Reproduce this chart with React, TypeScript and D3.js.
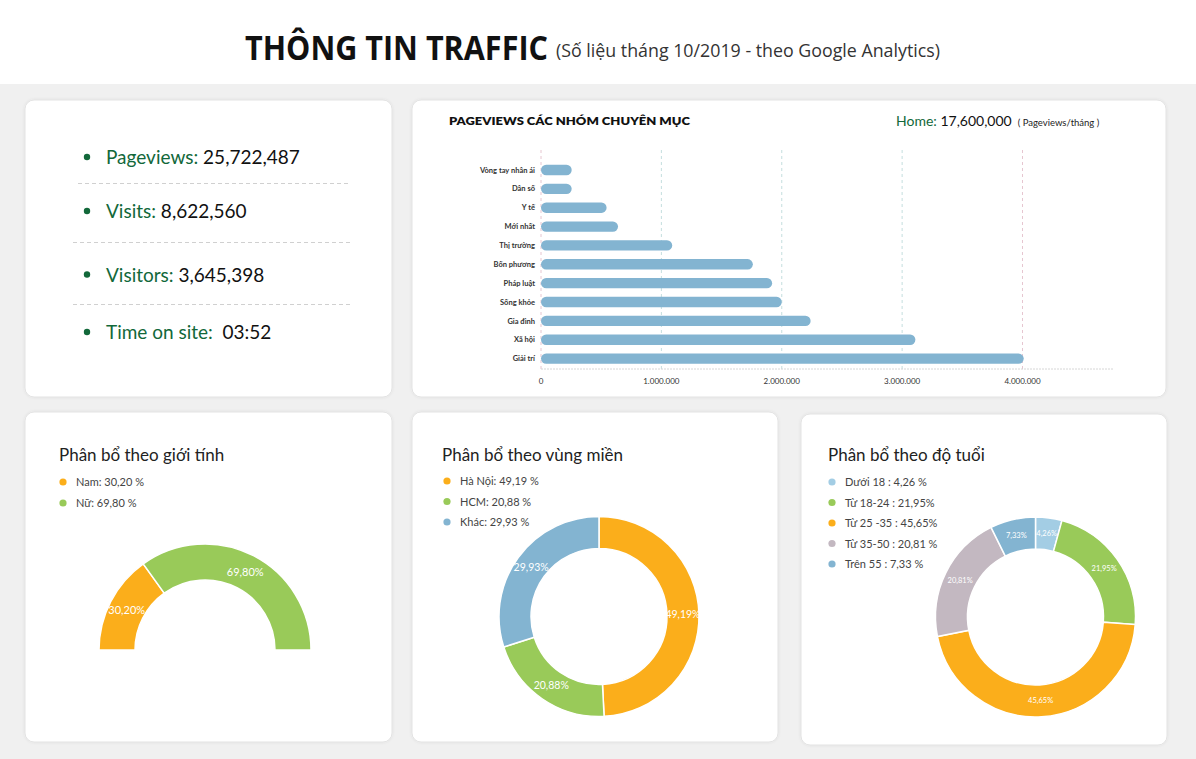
import React from "react";
import * as d3 from "d3";

// ---- data ----
const categories = [
  "Vòng tay nhân ái",
  "Dân số",
  "Y tế",
  "Mới nhất",
  "Thị trường",
  "Bốn phương",
  "Pháp luật",
  "Sống khỏe",
  "Gia đình",
  "Xã hội",
  "Giải trí",
];
const pageviews = [255000, 255000, 545000, 640000, 1090000, 1760000, 1920000, 2000000, 2240000, 3110000, 4010000];
const xTicks = [0, 1000000, 2000000, 3000000, 4000000];

const stats = [
  { label: "Pageviews:", value: " 25,722,487" },
  { label: "Visits:", value: " 8,622,560" },
  { label: "Visitors:", value: " 3,645,398" },
  { label: "Time on site:", value: "  03:52" },
];

const genderLabels = ["Nam", "Nữ"];
const genderValues = [30.2, 69.8];
const genderLegend = ["Nam: 30,20 %", "Nữ: 69,80 %"];

const regionLabels = ["Hà Nội", "HCM", "Khác"];
const regionValues = [49.19, 20.88, 29.93];
const regionLegend = ["Hà Nội: 49,19 %", "HCM: 20,88 %", "Khác: 29,93 %"];

const ageLabels = ["Dưới 18", "Từ 18-24", "Từ 25-35", "Từ 35-50", "Trên 55"];
const ageValues = [4.26, 21.95, 45.65, 20.81, 7.33];
const ageLegend = ["Dưới 18 : 4,26 %", "Từ 18-24 : 21,95%", "Từ 25 -35 : 45,65%", "Từ 35-50 : 20,81 %", "Trên 55 : 7,33 %"];

const ORANGE = "#fbae1b";
const GREEN = "#99ca59";
const BLUE = "#83b4d1";
const LIGHTBLUE = "#a3cde4";
const MAUVE = "#c3b8c1";
const DARKGREEN = "#12683a";
const FONT = "Lato, 'Open Sans', sans-serif";

const genderColors = [ORANGE, GREEN];
const regionColors = [ORANGE, GREEN, BLUE];
const ageColors = [LIGHTBLUE, GREEN, ORANGE, MAUVE, BLUE];

const viFormat = d3.formatLocale({ decimal: ",", thousands: ".", grouping: [3], currency: ["", ""] }).format(",d");
const pctText = (v: number) => d3.format(".2f")(v).replace(".", ",") + "%";

const Card = ({ x, y, w, h }: { x: number; y: number; w: number; h: number }) => (
  <rect x={x} y={y} width={w} height={h} rx={9} fill="#fff" stroke="#e3e3e3" strokeWidth={1} filter="url(#shadow)" />
);

const Legend = ({ x, y, items, colors, step }: { x: number; y: number; items: string[]; colors: string[]; step: number }) => (
  <g>
    {items.map((t, i) => (
      <g key={t} transform={`translate(${x},${y + i * step})`}>
        <circle cx={0} cy={0} r={3.6} fill={colors[i]} />
        <text x={13} y={4} fontSize={11} fill="#444" fontFamily={FONT}>
          {t}
        </text>
      </g>
    ))}
  </g>
);

const Donut = ({
  cx,
  cy,
  values,
  colors,
  outer,
  inner,
  start,
  end,
  labelSize,
}: {
  cx: number;
  cy: number;
  values: number[];
  colors: string[];
  outer: number;
  inner: number;
  start: number;
  end: number;
  labelSize: number;
}) => {
  const pie = d3.pie<number>().sort(null).startAngle(start).endAngle(end);
  const arcs = pie(values);
  const arc = d3.arc<d3.PieArcDatum<number>>().innerRadius(inner).outerRadius(outer);
  return (
    <g transform={`translate(${cx},${cy})`}>
      {arcs.map((a, i) => (
        <path key={i} d={arc(a) || ""} fill={colors[i]} stroke="#fff" strokeWidth={1.5} />
      ))}
      {arcs.map((a, i) => {
        const [lx, ly] = arc.centroid(a);
        return (
          <text
            key={"l" + i}
            x={lx}
            y={ly}
            dy="0.35em"
            textAnchor="middle"
            fontSize={labelSize}
            fill="#fff"
            fontFamily={FONT}
          >
            {pctText(values[i])}
          </text>
        );
      })}
    </g>
  );
};

export default function App() {
  // bar chart scales
  const x = d3.scaleLinear().domain([0, 4760000]).range([541, 1114]);
  const y = d3.scaleBand<string>().domain(categories).range([156.3, 372.3]).padding(0.45);
  const bh = y.bandwidth();
  const gridTop = 150;
  const gridBottom = 369;

  return (
    <svg
      width={1196}
      height={759}
      style={{ position: "absolute", left: 0, top: 0, display: "block" }}
      fontFamily={FONT}
    >
      <defs>
        <filter id="shadow" x="-5%" y="-5%" width="110%" height="110%">
          <feDropShadow dx="0" dy="0" stdDeviation="1.5" floodColor="#000" floodOpacity="0.08" />
        </filter>
      </defs>
      <rect x={0} y={0} width={1196} height={759} fill="#f0f0f0" />
      <rect x={0} y={0} width={1196} height={84} fill="#fff" />

      {/* header */}
      <text
        x={245}
        y={60}
        fontSize={34}
        fontWeight={700}
        fill="#111"
        fontFamily="'Liberation Sans Narrow', 'Open Sans', sans-serif"
        textLength={303}
        lengthAdjust="spacingAndGlyphs"
      >
        THÔNG TIN TRAFFIC
      </text>
      <text
        x={556}
        y={57}
        fontSize={19}
        fill="#333"
        fontFamily="'Liberation Sans Narrow', 'Open Sans', sans-serif"
        textLength={384}
        lengthAdjust="spacingAndGlyphs"
      >
        (Số liệu tháng 10/2019 - theo Google Analytics)
      </text>

      <Card x={25} y={100} w={367} h={297} />
      <Card x={412} y={100} w={754} h={297} />
      <Card x={25} y={412} w={367} h={330} />
      <Card x={412} y={412} w={366} h={330} />
      <Card x={801} y={414} w={366} h={331} />

      {/* stats */}
      {stats.map((s, i) => {
        const by = [164, 218, 281.5, 339][i];
        return (
          <g key={s.label}>
            <circle cx={87} cy={by - 7} r={3.2} fill={DARKGREEN} />
            <text x={106} y={by} fontSize={19} fontFamily={FONT}>
              <tspan fill={DARKGREEN}>{s.label}</tspan>
              <tspan fill="#111" style={{ whiteSpace: "pre" }}>
                {s.value}
              </tspan>
            </text>
          </g>
        );
      })}
      {[
        [78, 183.5],
        [73, 242.5],
        [73, 304.5],
      ].map(([x0, yy], i) => (
        <line key={i} x1={x0} x2={350} y1={yy} y2={yy} stroke="#d0d0d0" strokeDasharray="4,3" />
      ))}

      {/* bar chart */}
      <text x={449} y={125} fontSize={12} fontWeight={800} fill="#111" textLength={241} lengthAdjust="spacingAndGlyphs">
        PAGEVIEWS CÁC NHÓM CHUYÊN MỤC
      </text>
      <text x={896} y={126} fontSize={14}>
        <tspan fill={DARKGREEN}>Home:</tspan>
        <tspan fill="#111"> 17,600,000</tspan>
        <tspan fill="#222" fontSize={9.5} dx={6}>
          ( Pageviews/tháng )
        </tspan>
      </text>

      {xTicks.map((t, i) => (
        <line
          key={t}
          x1={x(t)}
          x2={x(t)}
          y1={gridTop}
          y2={gridBottom}
          stroke={i === 0 || i === xTicks.length - 1 ? "#e6c6d0" : "#c4dede"}
          strokeDasharray="3,3"
        />
      ))}
      <line x1={x(0)} x2={x.range()[1]} y1={gridBottom} y2={gridBottom} stroke="#d6d6d6" strokeDasharray="2,1" />
      {xTicks.map((t) => (
        <text key={"t" + t} x={x(t)} y={384} fontSize={8} textAnchor="middle" fill="#333">
          {viFormat(t)}
        </text>
      ))}
      {categories.map((c, i) => (
        <g key={c}>
          <rect
            x={x(0)}
            y={y(c) as number}
            width={x(pageviews[i]) - x(0)}
            height={bh}
            rx={bh / 2}
            fill={BLUE}
          />
          <text
            x={535}
            y={(y(c) as number) + bh / 2}
            dy="0.35em"
            fontSize={7.5}
            fontWeight={700}
            textAnchor="end"
            fill="#333"
          >
            {c}
          </text>
        </g>
      ))}

      {/* gender */}
      <text x={59} y={461} fontSize={17} fill="#222">
        Phân bổ theo giới tính
      </text>
      <Legend x={63} y={482} items={genderLegend} colors={genderColors} step={21} />
      <Donut
        cx={205}
        cy={650}
        values={genderValues}
        colors={genderColors}
        outer={106}
        inner={70}
        start={-Math.PI / 2}
        end={Math.PI / 2}
        labelSize={11}
      />

      {/* region */}
      <text x={442} y={461} fontSize={17} fill="#222">
        Phân bổ theo vùng miền
      </text>
      <Legend x={447} y={481} items={regionLegend} colors={regionColors} step={20.5} />
      <Donut
        cx={599}
        cy={616.5}
        values={regionValues}
        colors={regionColors}
        outer={100}
        inner={68}
        start={0}
        end={2 * Math.PI}
        labelSize={10.5}
      />

      {/* age */}
      <text x={828} y={461} fontSize={17} fill="#222">
        Phân bổ theo độ tuổi
      </text>
      <Legend x={832} y={482} items={ageLegend} colors={ageColors} step={20.5} />
      <Donut
        cx={1035.5}
        cy={617}
        values={ageValues}
        colors={ageColors}
        outer={100}
        inner={68}
        start={0}
        end={2 * Math.PI}
        labelSize={7.5}
      />
    </svg>
  );
}
